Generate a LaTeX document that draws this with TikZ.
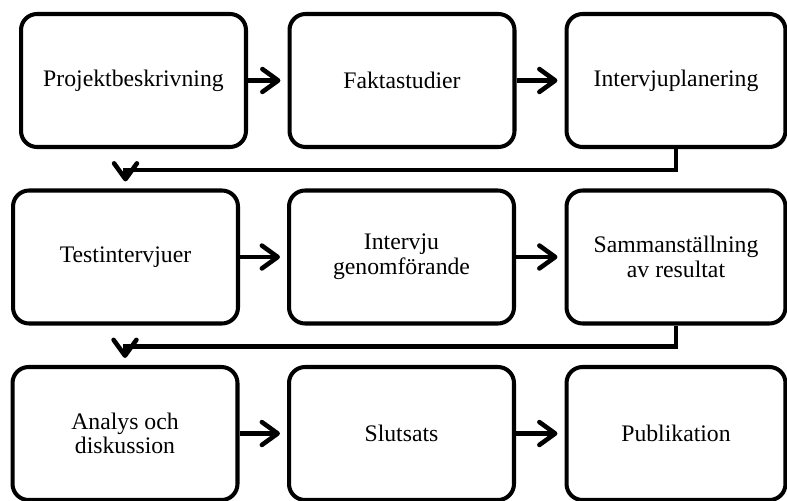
\documentclass[tikz,border=0pt]{standalone}
\usepackage{fontspec}
\setmainfont{Liberation Serif}
\usetikzlibrary{arrows.meta}

\begin{document}
\begin{tikzpicture}[x=0.02cm,y=-0.02cm,
  stepbox/.style={draw,line width=2.3pt,rounded corners=0.32cm,minimum width=4.5cm,
    minimum height=2.66cm,inner sep=0pt,align=center,font=\fontsize{13.5}{14}\selectfont},
  lastcol/.style={minimum width=4.38cm},
  flow/.style={line width=2.6pt,shorten >=4pt,
    -{Straight Barb[length=9pt,width=13pt,line cap=round,line join=round]}}]
\useasboundingbox (0,0) rectangle (787,500);
\clip (0,0) rectangle (787,500);
\node[stepbox] (proj) at (133.5,80.5) {Projektbeskrivning};
\node[stepbox] (fakta) at (402,80.5) {Faktastudier};
\node[stepbox,lastcol] (plan) at (676,80.5) {Intervjuplanering};
\node[stepbox] (test) at (125.5,257) {Testintervjuer};
\node[stepbox] (genom) at (401.5,257) {Intervju\\genomförande};
\node[stepbox,lastcol] (samm) at (676,257) {Sammanställning\\av resultat};
\node[stepbox] (analys) at (125,433.5) {Analys och\\diskussion};
\node[stepbox] (slut) at (401.5,433.5) {Slutsats};
\node[stepbox,lastcol] (publ) at (676,433.5) {Publikation};
\draw[flow] (proj) -- (fakta);
\draw[flow] (fakta) -- (plan);
\draw[flow] (plan.south) -- ++(0,21) -| (test.north);
\draw[flow] (test) -- (genom);
\draw[flow] (genom) -- (samm);
\draw[flow] (samm.south) -- ++(0,21) -| (analys.north);
\draw[flow] (analys) -- (slut);
\draw[flow] (slut) -- (publ);
\end{tikzpicture}
\end{document}
